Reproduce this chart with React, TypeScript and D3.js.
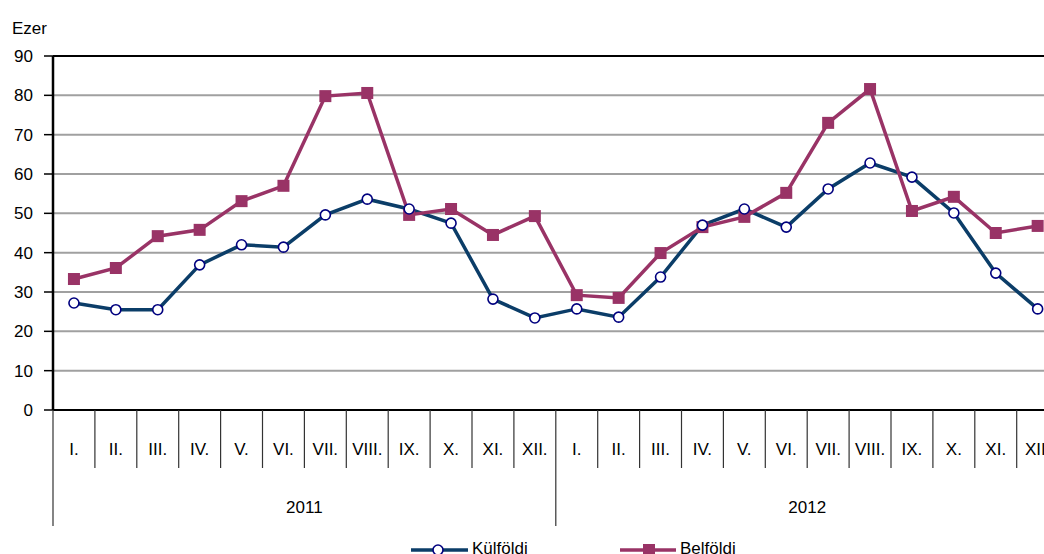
import React from "react";
import { scaleBand, scaleLinear, line } from "d3";

const months = ["I.", "II.", "III.", "IV.", "V.", "VI.", "VII.", "VIII.", "IX.", "X.", "XI.", "XII."];
const years = ["2011", "2012"];
const yTicks = [0, 10, 20, 30, 40, 50, 60, 70, 80, 90];

const kulfoldi = [
  27.2, 25.5, 25.5, 36.9, 42.0, 41.4, 49.6, 53.6, 51.1, 47.5, 28.2, 23.4,
  25.7, 23.6, 33.8, 47.0, 51.1, 46.5, 56.2, 62.8, 59.2, 50.1, 34.8, 25.7,
];
const belfoldi = [
  33.3, 36.1, 44.2, 45.8, 53.1, 57.0, 79.8, 80.6, 49.6, 51.1, 44.5, 49.3,
  29.2, 28.5, 39.9, 46.5, 49.1, 55.2, 73.0, 81.6, 50.6, 54.2, 45.0, 46.8,
];

const W = 1044;
const H = 554;
const left = 53;
const band = 41.9;
const font = "'Liberation Sans', Arial, sans-serif";
const blue = "#0b3d68";
const navy = "#00007f";
const plum = "#993366";

export default function App() {
  const cats = years.flatMap((y) => months.map((m) => `${y}-${m}`));
  const x = scaleBand<string>()
    .domain(cats)
    .range([left, left + band * cats.length]);
  const y = scaleLinear().domain([0, 90]).range([410, 56]);
  const cx = (i: number) => (x(cats[i]) as number) + x.bandwidth() / 2;
  const path = line<number>()
    .x((_, i) => cx(i))
    .y((d) => y(d));

  return (
    <svg
      width={W}
      height={H}
      style={{ position: "absolute", left: 0, top: 0, background: "#fff" }}
      fontFamily={font}
    >
      <text x={12} y={34} fontSize={17}>Ezer</text>
      {yTicks.map((t) => (
        <g key={t}>
          <line
            x1={left}
            x2={W + 40}
            y1={y(t)}
            y2={y(t)}
            stroke={t === 0 || t === 90 ? "#000" : "#a0a0a0"}
            strokeWidth={2}
          />
          <line x1={44} x2={left} y1={y(t)} y2={y(t)} stroke="#000" strokeWidth={1.5} />
          <text x={33} y={y(t) + 6} textAnchor="end" fontSize={17}>
            {t}
          </text>
        </g>
      ))}
      <line x1={left} x2={left} y1={y(90)} y2={y(0)} stroke="#000" strokeWidth={2.5} />
      {cats.map((c, i) => (
        <g key={c}>
          <line
            x1={x(c) as number}
            x2={x(c) as number}
            y1={y(0)}
            y2={i % 12 === 0 ? 526 : 468}
            stroke="#333"
            strokeWidth={1.2}
          />
          <text x={cx(i)} y={455} textAnchor="middle" fontSize={17}>
            {months[i % 12]}
          </text>
        </g>
      ))}
      {years.map((yr, k) => (
        <text
          key={yr}
          x={((x(cats[k * 12]) as number) + (x(cats[k * 12 + 11]) as number) + x.bandwidth()) / 2}
          y={513}
          textAnchor="middle"
          fontSize={17}
        >
          {yr}
        </text>
      ))}
      <path d={path(kulfoldi) ?? ""} fill="none" stroke={blue} strokeWidth={3.5} />
      <path d={path(belfoldi) ?? ""} fill="none" stroke={plum} strokeWidth={3.5} />
      {belfoldi.map((v, i) => (
        <rect key={i} x={cx(i) - 6} y={y(v) - 6} width={12} height={12} fill={plum} />
      ))}
      {kulfoldi.map((v, i) => (
        <circle key={i} cx={cx(i)} cy={y(v)} r={5} fill="#fff" stroke={navy} strokeWidth={1.6} />
      ))}
      <g>
        <line x1={411} x2={468} y1={550} y2={550} stroke={blue} strokeWidth={3.5} />
        <circle cx={438} cy={550} r={5} fill="#fff" stroke={navy} strokeWidth={1.6} />
        <text x={472} y={554} fontSize={17}>Külföldi</text>
        <line x1={620} x2={676} y1={550} y2={550} stroke={plum} strokeWidth={3.5} />
        <rect x={643} y={544} width={12} height={12} fill={plum} />
        <text x={680} y={554} fontSize={17}>Belföldi</text>
      </g>
    </svg>
  );
}
